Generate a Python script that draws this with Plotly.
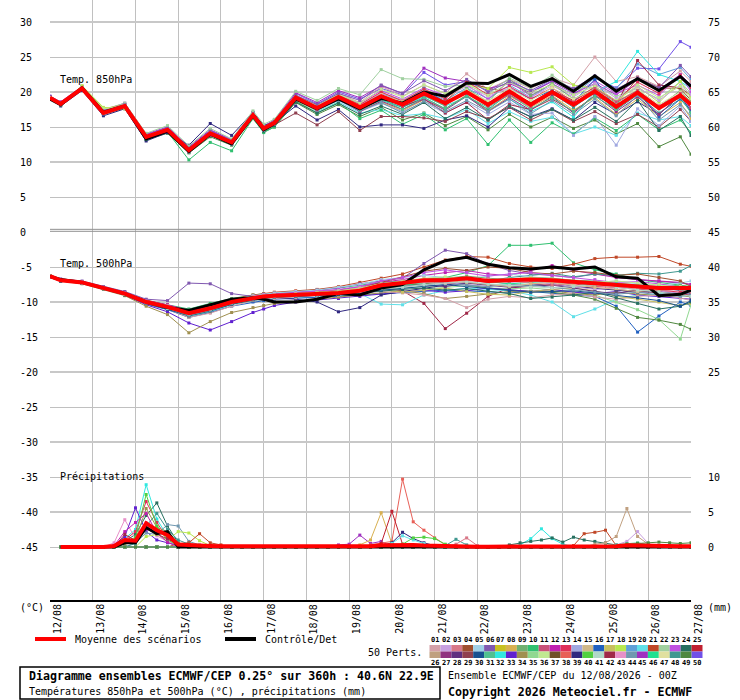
import plotly.graph_objects as go

FONT = "DejaVu Sans Mono"

# forecast hours of the temperature points
hours = [0, 6, 18, 30, 42, 54, 66, 78, 90, 102, 114, 120, 126, 138, 150, 162, 174,
         186, 198, 210, 222, 234, 246, 258, 270, 282, 294, 306, 318, 330, 342, 354, 360]
# precipitation is 6-hourly, from +6h
rain_hours = list(range(6, 361, 6))

day_hours = [0, 24, 48, 72, 96, 120, 144, 168, 192, 216, 240, 264, 288, 312, 336, 360]
day_labels = ["12/08", "13/08", "14/08", "15/08", "16/08", "17/08", "18/08", "19/08",
              "20/08", "21/08", "22/08", "23/08", "24/08", "25/08", "26/08", "27/08"]

left_ticks = [30, 25, 20, 15, 10, 5, 0, -5, -10, -15, -20, -25, -30, -35, -40, -45]
right_ticks = [(30, "75"), (25, "70"), (20, "65"), (15, "60"), (10, "55"), (5, "50"), (0, "45"),
               (-5, "40"), (-10, "35"), (-15, "30"), (-20, "25"), (-35, "10"), (-40, "5"), (-45, "0")]

# colours of the 50 perturbed members (legend order 01..50)
palette = ["#d4a0a8", "#c8a0e0", "#d87888", "#a05030", "#a0d0e8", "#8058b0", "#c8c020", "#d8b050",
           "#70b070", "#30c070", "#c85078", "#c020b0", "#e03058", "#a0a8e0", "#d0b888", "#2060c0",
           "#c8c060", "#b8e850", "#60a0d8", "#60e0e8", "#c04828", "#a0d0a0", "#c050e0", "#287060",
           "#c02030", "#c0a080", "#903080", "#603080", "#904050", "#185090", "#50c090", "#30e8e0",
           "#6020d0", "#a09050", "#90d890", "#c0e890", "#705028", "#e86058", "#302880", "#50d040",
           "#b0d8c8", "#a02848", "#e890c8", "#7098b0", "#a030c0", "#20e090", "#e0e0a0", "#409890",
           "#508840", "#7050e8"]

# ---- 850 hPa temperature (degC)
t850_mean = [19.2, 18.3, 20.5, 17.0, 18.0, 13.6, 14.6, 11.7, 14.1, 12.8, 16.7, 14.8, 15.6, 19.2, 17.7, 19.3, 17.8,
             19.4, 18.2, 19.8, 18.4, 20.0, 18.2, 20.1, 18.2, 20.0, 18.2, 20.1, 17.9, 19.9, 17.7, 19.5, 18.2]
t850_ctrl = [19.0, 18.2, 20.6, 17.1, 18.0, 13.3, 14.4, 11.5, 14.0, 12.6, 16.6, 14.6, 15.5, 19.0, 17.6, 19.0, 17.6,
             19.1, 18.4, 20.0, 19.4, 21.3, 21.2, 22.5, 20.8, 21.9, 20.1, 22.3, 20.1, 21.9, 20.2, 22.2, 20.8]
t850_members = [
    (50, [19.4, 18.5, 20.6, 17.3, 18.2, 13.9, 14.9, 12.0, 14.5, 13.1, 17.0, 15.2, 15.9, 19.8, 18.3, 20.0, 19.0,
          20.5, 19.6, 22.8, 21.0, 21.5, 20.2, 21.8, 20.0, 21.6, 20.3, 22.0, 20.6, 23.4, 23.3, 27.2, 26.4]),
    (49, [19.0, 18.1, 20.3, 16.8, 17.7, 13.2, 14.1, 11.3, 13.6, 12.4, 16.2, 14.3, 15.0, 18.5, 16.8, 18.2, 16.5,
          17.8, 16.0, 17.0, 15.2, 16.5, 14.6, 16.8, 15.0, 16.4, 14.8, 16.0, 14.0, 15.5, 12.2, 13.6, 11.1]),
    (20, [19.3, 18.4, 20.5, 17.1, 18.1, 13.5, 14.4, 11.4, 13.8, 12.5, 16.5, 14.6, 15.3, 18.9, 17.2, 18.6, 17.0,
          17.5, 16.6, 16.9, 16.2, 17.5, 15.5, 17.2, 15.8, 16.4, 14.0, 15.0, 13.8, 17.0, 16.0, 16.5, 15.2]),
    (19, [19.1, 18.2, 20.4, 17.2, 18.0, 13.7, 14.7, 11.8, 14.3, 13.0, 16.9, 15.0, 15.8, 19.5, 18.0, 19.6, 18.2,
          19.8, 18.6, 20.2, 18.8, 20.6, 19.0, 21.0, 19.2, 21.2, 19.6, 22.0, 20.5, 24.0, 22.5, 23.5, 21.8]),
    (10, [19.2, 18.3, 20.4, 16.9, 17.9, 13.4, 14.3, 10.3, 12.8, 11.6, 16.2, 14.2, 15.0, 18.7, 17.0, 18.5, 16.2,
          17.4, 15.4, 16.8, 14.6, 16.2, 12.5, 16.0, 12.8, 15.6, 14.0, 16.3, 14.5, 16.8, 14.6, 16.0, 14.2]),
    (1, [19.3, 18.4, 20.7, 17.2, 18.1, 13.8, 14.8, 11.9, 14.2, 12.9, 16.9, 15.0, 15.8, 19.6, 18.1, 19.8, 18.5,
         20.8, 19.4, 21.0, 19.8, 22.6, 20.4, 21.8, 20.5, 22.0, 21.0, 25.0, 21.5, 22.2, 20.8, 23.0, 21.5]),
    (45, [19.4, 18.6, 20.8, 17.4, 18.4, 14.0, 15.0, 12.2, 14.6, 13.2, 17.0, 15.1, 16.0, 19.9, 18.5, 20.2, 19.2,
          20.9, 19.8, 23.4, 22.0, 21.5, 20.5, 21.2, 19.9, 21.5, 19.8, 21.2, 19.6, 21.8, 20.3, 22.5, 21.0]),
    (39, [19.0, 18.0, 20.2, 16.6, 17.6, 13.0, 14.2, 12.4, 15.5, 13.8, 17.1, 15.2, 15.6, 18.0, 16.0, 17.5, 15.0,
          15.3, 15.3, 14.8, 16.0, 16.6, 15.0, 17.8, 16.5, 17.6, 16.0, 18.5, 16.8, 18.6, 16.8, 19.5, 17.2]),
    (32, [19.2, 18.3, 20.5, 17.0, 18.0, 13.6, 14.6, 11.6, 14.0, 12.7, 16.6, 14.7, 15.5, 19.1, 17.6, 19.2, 17.6,
          18.8, 17.8, 19.4, 18.0, 19.3, 17.5, 19.0, 17.2, 18.6, 16.4, 20.0, 21.5, 25.8, 22.5, 21.5, 20.5]),
    (4, [19.1, 18.2, 20.5, 17.1, 18.1, 13.6, 14.5, 11.6, 14.0, 12.8, 16.7, 14.9, 15.7, 19.3, 17.7, 19.3, 17.9,
         19.5, 18.3, 20.0, 18.6, 21.5, 20.5, 20.0, 18.5, 20.2, 18.8, 20.4, 18.2, 22.0, 20.6, 20.5, 18.8]),
    (22, [19.3, 18.5, 20.7, 17.5, 18.4, 14.1, 15.2, 12.3, 14.8, 13.3, 17.3, 15.4, 16.1, 20.1, 18.8, 20.5, 19.6,
          23.2, 21.9, 21.8, 20.8, 21.0, 19.7, 22.0, 20.6, 22.4, 20.2, 21.0, 19.4, 20.5, 19.0, 21.5, 19.8]),
    (29, [19.2, 18.4, 20.5, 17.0, 17.9, 13.5, 14.5, 11.5, 13.9, 12.6, 16.5, 14.5, 15.3, 17.0, 15.3, 17.2, 14.5,
          16.5, 16.5, 16.3, 15.8, 17.2, 16.2, 17.8, 16.0, 17.5, 15.8, 17.2, 15.5, 16.8, 15.0, 17.5, 15.8]),
    (8, [19.0, 18.2, 20.8, 17.6, 18.2, 13.4, 14.4, 11.4, 13.8, 12.6, 16.6, 14.6, 15.4, 18.8, 17.3, 18.9, 17.4,
         18.6, 17.3, 18.9, 17.6, 19.6, 17.3, 19.4, 17.8, 19.5, 17.4, 19.2, 16.8, 19.0, 16.5, 18.5, 16.2]),
    (23, [19.3, 18.3, 20.5, 17.0, 18.1, 13.7, 14.7, 11.8, 14.2, 12.9, 16.8, 14.9, 15.7, 19.4, 17.9, 19.5, 18.4,
          20.2, 19.0, 20.6, 19.5, 21.0, 19.0, 21.5, 19.4, 21.2, 19.5, 21.6, 19.8, 21.0, 19.5, 22.5, 20.0]),
    (48, [19.2, 18.2, 20.4, 17.0, 18.0, 13.5, 14.6, 11.7, 14.1, 12.8, 16.6, 14.8, 15.6, 19.1, 17.6, 19.1, 17.6,
          19.0, 17.8, 19.2, 17.6, 19.5, 17.5, 19.8, 18.0, 19.8, 17.8, 20.0, 17.4, 19.6, 17.0, 19.0, 17.2]),
    (14, [19.1, 18.3, 20.5, 16.9, 17.9, 13.6, 14.5, 11.5, 14.0, 12.7, 16.6, 14.7, 15.5, 19.0, 17.4, 18.8, 17.2,
          18.4, 17.2, 18.5, 17.0, 18.6, 16.8, 18.6, 16.8, 17.0, 13.8, 16.5, 12.4, 17.6, 15.2, 18.0, 15.8]),
    (42, [19.2, 18.3, 20.5, 17.0, 18.0, 13.6, 14.6, 11.7, 14.1, 12.8, 16.7, 14.8, 15.6, 19.2, 17.7, 19.2, 17.8,
          19.2, 18.0, 19.0, 17.0, 18.5, 16.0, 18.2, 17.5, 19.0, 17.2, 19.5, 18.0, 24.5, 21.0, 20.6, 19.5]),
    (16, [19.3, 18.4, 20.6, 17.1, 18.1, 13.7, 14.8, 11.9, 14.3, 13.0, 16.8, 14.9, 15.7, 19.3, 17.8, 19.4, 18.0,
          19.6, 18.2, 20.5, 18.5, 20.0, 18.0, 20.6, 19.0, 20.2, 18.5, 21.8, 17.5, 20.2, 16.4, 19.0, 17.5]),
    (18, [19.2, 18.2, 20.9, 17.8, 17.6, 13.5, 14.6, 11.6, 14.0, 12.8, 16.7, 14.7, 15.6, 19.2, 17.9, 19.6, 18.2,
          19.9, 18.8, 20.4, 19.2, 21.0, 20.5, 23.5, 22.8, 23.6, 21.0, 20.5, 18.8, 20.8, 18.5, 21.5, 19.2]),
    (24, [19.1, 18.2, 20.4, 16.9, 18.0, 13.2, 14.4, 11.4, 13.8, 12.5, 16.4, 14.4, 15.2, 18.6, 17.0, 18.4, 16.8,
          18.0, 16.8, 18.5, 16.2, 17.8, 16.0, 18.0, 16.4, 17.5, 16.0, 17.8, 15.8, 18.8, 14.5, 16.5, 13.8]),
    (2, [19.2, 18.4, 20.6, 17.2, 18.1, 13.7, 14.7, 11.8, 14.2, 12.9, 16.8, 14.9, 15.7, 19.3, 17.9, 19.4, 18.1,
         19.8, 18.9, 20.3, 19.3, 20.8, 19.4, 20.6, 19.2, 20.9, 19.3, 21.2, 19.1, 20.7, 18.8, 21.0, 19.6]),
    (9, [19.1, 18.2, 20.5, 17.0, 18.0, 13.5, 14.5, 11.5, 13.9, 12.6, 16.6, 14.6, 15.5, 19.0, 17.5, 19.1, 17.5,
         19.3, 18.1, 19.5, 18.0, 20.5, 18.6, 21.8, 19.5, 21.2, 19.0, 20.6, 18.4, 20.3, 17.9, 20.2, 18.5]),
    (13, [19.3, 18.3, 20.5, 17.1, 18.0, 13.6, 14.6, 11.7, 14.1, 12.8, 16.7, 14.8, 15.6, 19.3, 17.8, 19.5, 18.2,
          20.0, 18.7, 20.4, 19.0, 21.5, 19.6, 20.8, 19.0, 20.6, 18.6, 20.8, 18.7, 21.4, 19.8, 22.4, 20.6]),
    (27, [19.2, 18.3, 20.4, 17.0, 17.9, 13.5, 14.4, 11.5, 13.8, 12.6, 16.5, 14.5, 15.4, 18.9, 17.4, 19.0, 17.2,
          18.7, 17.5, 19.0, 17.4, 19.4, 17.2, 19.2, 17.4, 19.4, 17.0, 19.5, 17.2, 19.3, 16.8, 19.6, 17.6]),
    (36, [19.2, 18.3, 20.6, 17.6, 18.0, 13.7, 14.7, 11.9, 14.3, 13.0, 16.9, 15.0, 15.8, 19.4, 18.1, 19.7, 18.4,
          20.4, 19.3, 21.0, 19.8, 21.2, 19.5, 21.4, 20.0, 21.0, 19.6, 20.8, 18.8, 21.0, 19.2, 20.8, 19.0]),
    (44, [19.1, 18.2, 20.4, 16.9, 18.0, 13.4, 14.4, 11.4, 13.9, 12.5, 16.5, 14.5, 15.4, 18.9, 17.4, 18.9, 17.3,
          18.5, 17.0, 18.7, 17.2, 18.8, 17.2, 19.0, 16.9, 18.8, 16.8, 19.0, 16.6, 19.5, 16.0, 18.2, 16.6]),
    (6, [19.3, 18.5, 20.6, 17.3, 18.2, 13.8, 14.8, 12.0, 14.4, 13.0, 16.9, 15.0, 15.8, 19.5, 18.2, 19.8, 18.8,
         21.0, 19.8, 21.6, 20.2, 21.8, 20.0, 21.5, 20.2, 21.8, 20.5, 22.3, 20.4, 22.0, 20.6, 23.8, 22.2]),
    (31, [19.2, 18.3, 20.5, 17.0, 18.0, 13.6, 14.6, 11.7, 14.1, 12.8, 16.7, 14.8, 15.6, 19.1, 17.6, 19.2, 17.5,
          19.0, 17.5, 19.2, 17.6, 19.4, 17.8, 19.6, 17.6, 19.2, 17.2, 19.4, 17.5, 19.8, 17.6, 19.2, 17.0]),
    (47, [19.2, 18.3, 20.6, 17.2, 18.1, 13.6, 14.6, 11.7, 14.1, 12.8, 16.7, 14.8, 15.6, 19.2, 17.8, 19.3, 17.8,
          19.6, 18.6, 20.0, 18.5, 20.3, 18.7, 20.5, 18.8, 20.6, 19.0, 20.4, 18.6, 20.4, 18.2, 20.0, 18.4]),
    (11, [19.1, 18.3, 20.5, 17.0, 18.0, 13.5, 14.5, 11.6, 14.0, 12.7, 16.6, 14.7, 15.5, 19.0, 17.5, 19.2, 17.9,
          19.3, 18.0, 19.6, 18.2, 19.9, 18.0, 19.6, 17.9, 20.0, 18.3, 20.5, 18.6, 20.2, 18.0, 19.8, 17.8]),
]

# ---- 500 hPa temperature (degC)
t500_mean = [-6.3, -6.9, -7.2, -8.0, -8.8, -10.0, -10.7, -11.6, -10.9, -10.0, -9.4, -9.2, -9.1, -9.0, -8.9, -8.7, -8.4,
             -7.6, -7.3, -6.9, -6.9, -6.6, -7.0, -6.9, -6.8, -6.9, -7.1, -7.3, -7.6, -7.8, -8.0, -8.0, -8.0]
t500_ctrl = [-6.3, -6.8, -7.2, -8.0, -8.8, -10.0, -10.8, -11.2, -10.4, -9.6, -9.4, -9.6, -10.0, -10.0, -9.6, -8.8, -9.0,
             -8.0, -7.5, -5.4, -4.1, -3.6, -4.6, -5.1, -5.3, -5.0, -5.3, -5.0, -6.4, -6.6, -9.1, -8.9, -8.3]
t500_members = [
    (10, [-6.2, -6.8, -7.1, -7.9, -8.6, -9.8, -10.4, -11.0, -10.2, -9.5, -9.0, -8.8, -8.7, -8.5, -8.3, -8.0, -7.6,
          -7.2, -7.0, -6.8, -6.5, -5.8, -4.8, -1.9, -1.9, -1.6, -4.4, -5.4, -6.0, -6.8, -7.2, -7.5, -7.8]),
    (42, [-6.4, -6.9, -7.3, -8.1, -8.9, -10.1, -10.8, -11.8, -11.0, -10.2, -9.6, -9.4, -9.3, -9.2, -9.0, -8.8, -8.5,
          -8.0, -8.4, -10.2, -13.8, -11.6, -9.2, -8.0, -7.8, -7.5, -7.8, -8.0, -8.2, -8.5, -8.7, -8.8, -9.0]),
    (21, [-6.3, -6.8, -7.1, -7.8, -8.6, -9.7, -10.4, -11.2, -10.4, -9.6, -9.0, -8.8, -8.6, -8.4, -8.2, -7.8, -7.2,
          -6.6, -6.0, -5.0, -4.0, -3.5, -3.6, -4.5, -5.0, -5.2, -4.6, -3.8, -3.6, -3.6, -3.5, -4.6, -4.9]),
    (20, [-6.4, -6.9, -7.2, -8.0, -8.9, -10.2, -11.0, -12.0, -11.4, -10.4, -9.8, -9.6, -9.5, -9.4, -9.3, -9.2, -8.8,
          -10.3, -10.4, -9.0, -8.4, -8.0, -8.2, -8.4, -9.0, -10.0, -12.1, -11.0, -9.6, -9.0, -8.8, -9.0, -9.2]),
    (16, [-6.5, -7.0, -7.3, -8.1, -9.0, -10.3, -11.1, -12.2, -11.5, -10.6, -10.0, -9.8, -9.6, -9.5, -9.4, -9.2, -9.0,
          -8.8, -8.6, -8.5, -8.3, -8.4, -8.6, -8.7, -8.5, -8.8, -9.0, -9.2, -10.6, -14.3, -12.0, -10.0, -10.5]),
    (35, [-6.3, -6.9, -7.2, -8.0, -8.8, -10.0, -10.7, -11.7, -11.0, -10.2, -9.5, -9.3, -9.2, -9.1, -9.0, -8.8, -8.5,
          -8.2, -8.0, -7.8, -7.9, -7.7, -8.0, -8.1, -8.0, -8.2, -8.5, -9.0, -10.0, -11.1, -12.5, -15.3, -10.4]),
    (49, [-6.4, -6.9, -7.2, -8.1, -8.9, -10.1, -10.9, -11.8, -11.2, -10.3, -9.6, -9.4, -9.3, -9.2, -9.1, -8.9, -8.6,
          -8.0, -7.6, -7.4, -7.2, -7.5, -8.0, -8.3, -8.5, -8.6, -9.0, -9.6, -10.9, -12.2, -12.6, -13.2, -13.9]),
    (6, [-6.2, -6.7, -7.0, -7.8, -8.5, -9.6, -9.8, -7.3, -7.4, -8.8, -9.2, -9.0, -8.8, -8.6, -8.3, -8.0, -7.4,
         -7.0, -6.6, -4.5, -2.6, -3.1, -4.6, -5.5, -6.0, -6.2, -6.5, -6.0, -6.3, -6.8, -7.0, -7.3, -7.5]),
    (33, [-6.4, -6.9, -7.3, -8.1, -9.0, -10.4, -11.4, -13.0, -14.0, -12.8, -11.5, -11.0, -10.5, -10.0, -9.7, -9.5, -9.2,
          -8.8, -8.5, -8.3, -8.6, -8.4, -8.0, -8.3, -8.5, -8.2, -8.6, -8.8, -8.5, -9.0, -9.2, -9.4, -9.6]),
    (34, [-6.5, -7.0, -7.4, -8.2, -9.1, -10.6, -11.8, -14.4, -12.8, -11.5, -10.8, -10.5, -10.2, -9.9, -9.6, -9.3, -9.0,
          -8.6, -8.4, -8.8, -9.5, -9.2, -8.8, -8.5, -8.6, -8.4, -8.8, -9.0, -8.6, -8.8, -9.1, -9.0, -9.3]),
    (39, [-6.3, -6.8, -7.1, -7.9, -8.8, -10.0, -10.6, -11.3, -10.6, -9.9, -9.4, -9.3, -9.4, -9.6, -10.0, -11.4, -10.8,
          -9.0, -8.5, -8.0, -7.6, -7.2, -7.5, -7.8, -7.6, -7.4, -7.8, -8.0, -8.3, -8.6, -8.5, -8.8, -8.7]),
    (12, [-6.3, -6.8, -7.2, -7.9, -8.7, -9.8, -10.4, -11.2, -10.5, -9.8, -9.2, -9.0, -8.9, -8.8, -8.6, -8.3, -7.8,
          -7.2, -6.8, -6.2, -5.8, -5.5, -6.0, -6.2, -5.5, -4.8, -5.5, -6.0, -6.5, -6.8, -7.0, -7.2, -7.5]),
    (48, [-6.4, -6.9, -7.3, -8.0, -8.9, -10.1, -10.9, -11.9, -11.2, -10.3, -9.5, -9.3, -9.2, -9.0, -8.9, -8.6, -8.2,
          -7.5, -7.2, -6.8, -6.5, -6.8, -7.0, -6.5, -6.2, -5.9, -6.4, -6.0, -6.2, -5.9, -6.0, -5.6, -4.8]),
    (1, [-6.4, -6.9, -7.2, -8.0, -8.9, -10.2, -11.0, -12.2, -11.6, -10.6, -9.8, -9.6, -9.5, -9.4, -9.2, -9.0, -8.7,
         -8.5, -8.7, -9.0, -9.5, -10.8, -9.6, -9.2, -9.4, -9.0, -8.8, -9.3, -9.6, -9.2, -9.0, -9.4, -9.8]),
    (5, [-6.2, -6.8, -7.1, -7.9, -8.7, -9.9, -10.5, -11.4, -10.6, -9.7, -9.1, -8.9, -8.7, -8.5, -8.3, -7.9, -7.5,
         -6.8, -6.5, -6.2, -6.5, -6.7, -6.3, -6.0, -6.4, -6.7, -7.0, -7.2, -7.0, -7.4, -7.6, -7.3, -7.0]),
    (17, [-6.4, -6.9, -7.2, -8.0, -8.8, -10.0, -10.6, -11.5, -10.8, -10.0, -9.5, -9.4, -9.3, -9.2, -9.0, -8.8, -8.4,
          -8.2, -8.6, -8.3, -8.0, -8.5, -8.9, -9.0, -8.5, -8.2, -8.0, -8.4, -9.2, -9.6, -10.0, -10.5, -10.2]),
    (4, [-6.3, -6.8, -7.2, -8.0, -8.8, -10.0, -10.6, -11.4, -10.7, -9.9, -9.3, -9.1, -9.0, -8.9, -8.7, -8.4, -8.0,
         -7.2, -6.4, -5.6, -5.2, -5.5, -5.0, -5.2, -5.8, -6.0, -5.6, -5.8, -6.2, -6.0, -6.5, -7.0, -7.8]),
    (24, [-6.5, -7.0, -7.3, -8.1, -9.0, -10.2, -11.0, -12.0, -11.3, -10.3, -9.7, -9.5, -9.3, -9.2, -9.1, -8.9, -8.7,
          -8.4, -8.2, -8.0, -8.3, -8.1, -8.4, -8.8, -9.5, -9.3, -9.0, -8.6, -9.4, -10.2, -11.0, -10.6, -10.0]),
    (2, [-6.3, -6.8, -7.2, -8.0, -8.8, -10.0, -10.8, -11.8, -11.0, -10.0, -9.3, -9.1, -9.0, -8.9, -8.8, -8.6, -8.2,
         -7.8, -7.5, -7.0, -7.2, -7.5, -7.8, -7.2, -7.0, -7.4, -7.8, -8.2, -8.0, -7.8, -8.4, -8.8, -8.5]),
    (28, [-6.4, -6.9, -7.3, -8.0, -8.9, -10.1, -10.8, -11.7, -11.1, -10.2, -9.6, -9.4, -9.2, -9.0, -8.9, -8.7, -8.5,
          -8.1, -7.8, -7.5, -7.8, -7.3, -7.6, -7.9, -7.7, -7.6, -8.0, -8.5, -8.8, -8.2, -7.9, -8.3, -8.6]),
    (9, [-6.3, -6.8, -7.2, -7.9, -8.7, -9.9, -10.6, -11.5, -10.8, -9.9, -9.3, -9.1, -9.0, -8.9, -8.7, -8.5, -8.2,
         -7.6, -7.2, -6.8, -6.6, -6.3, -6.6, -6.8, -6.5, -6.6, -6.9, -7.0, -7.3, -7.6, -7.8, -7.6, -7.9]),
    (13, [-6.4, -6.9, -7.2, -8.0, -8.8, -10.0, -10.7, -11.6, -10.9, -10.0, -9.4, -9.2, -9.1, -9.0, -8.8, -8.6, -8.3,
          -7.7, -7.4, -7.0, -6.8, -6.9, -7.2, -7.0, -6.9, -7.2, -7.4, -7.8, -7.9, -8.2, -8.3, -8.6, -8.4]),
    (23, [-6.3, -6.8, -7.1, -7.9, -8.7, -9.9, -10.5, -11.3, -10.6, -9.8, -9.2, -9.0, -8.9, -8.7, -8.5, -8.2, -7.8,
          -7.0, -6.5, -5.8, -5.4, -5.8, -6.3, -6.0, -5.8, -6.2, -6.5, -6.8, -7.2, -7.1, -7.4, -7.9, -8.1]),
    (30, [-6.5, -7.0, -7.3, -8.1, -8.9, -10.2, -11.0, -11.9, -11.2, -10.3, -9.6, -9.4, -9.3, -9.2, -9.1, -8.9, -8.6,
          -8.3, -8.0, -7.7, -7.5, -7.8, -8.1, -8.4, -8.6, -8.5, -8.4, -8.7, -9.0, -9.4, -9.8, -10.6, -9.8]),
    (36, [-6.3, -6.8, -7.2, -8.0, -8.8, -10.0, -10.6, -11.5, -10.8, -9.9, -9.3, -9.1, -9.0, -8.8, -8.6, -8.4, -8.0,
          -7.4, -7.0, -6.6, -6.4, -6.6, -6.9, -6.7, -6.5, -6.7, -7.0, -7.2, -7.0, -7.3, -7.5, -7.8, -8.0]),
    (44, [-6.4, -6.9, -7.3, -8.0, -8.9, -10.1, -10.9, -11.9, -11.2, -10.2, -9.6, -9.4, -9.3, -9.1, -9.0, -8.8, -8.5,
          -8.0, -7.8, -7.6, -7.3, -7.6, -7.8, -7.5, -7.6, -7.9, -8.3, -8.6, -8.9, -8.6, -9.0, -9.2, -9.0]),
    (46, [-6.3, -6.9, -7.2, -8.0, -8.8, -10.0, -10.8, -11.6, -10.9, -10.0, -9.4, -9.2, -9.1, -9.0, -8.8, -8.6, -8.3,
          -7.8, -7.6, -7.2, -7.0, -6.8, -7.1, -7.4, -7.2, -7.0, -7.3, -7.6, -7.4, -7.7, -7.9, -8.2, -8.4]),
    (3, [-6.4, -6.9, -7.2, -8.0, -8.9, -10.1, -10.8, -11.6, -10.8, -9.9, -9.3, -9.2, -9.1, -9.0, -8.9, -8.7, -8.3,
         -7.7, -7.4, -7.2, -7.4, -7.0, -6.7, -7.0, -7.3, -7.6, -7.4, -7.1, -7.6, -8.0, -8.4, -8.2, -8.6]),
    (15, [-6.3, -6.8, -7.2, -8.0, -8.8, -9.9, -10.6, -11.4, -10.7, -9.9, -9.3, -9.1, -9.0, -8.9, -8.7, -8.5, -8.1,
          -7.5, -7.1, -6.7, -6.9, -7.2, -7.5, -7.8, -7.4, -7.2, -7.6, -7.9, -8.1, -8.5, -8.2, -8.0, -8.3]),
    (41, [-6.4, -6.9, -7.3, -8.1, -8.9, -10.1, -10.9, -11.7, -11.0, -10.1, -9.5, -9.3, -9.2, -9.1, -9.0, -8.8, -8.5,
          -8.1, -7.9, -7.5, -7.3, -7.1, -7.4, -7.6, -7.9, -8.0, -7.8, -7.5, -7.9, -8.3, -8.6, -8.9, -9.2]),
]

# ---- precipitation (mm / 6h), drawn on the -45 baseline of the left scale
RAIN_BASE = -45
rain_mean = [0, 0, 0, 0, 0, 0.15, 1.0, 0.9, 3.4, 2.4,
             1.7, 0.35, 0.25, 0.25, 0.15, 0.1, 0.1, 0.1, 0.05, 0.05,
             0.05, 0.05, 0.05, 0.05, 0.05, 0.05, 0.05, 0.05, 0.1, 0.1,
             0.25, 0.25, 0.35, 0.3, 0.2, 0.15, 0.1, 0.1, 0.1, 0.05,
             0.05, 0.05, 0.05, 0.05, 0.1, 0.15, 0.15, 0.1, 0.15, 0.15,
             0.15, 0.15, 0.1, 0.25, 0.2, 0.15, 0.1, 0.1, 0.1, 0.1]
rain_ctrl = [0, 0, 0, 0, 0, 0, 0.6, 0.6, 2.8, 1.9,
             2.2, 0, 0, 0, 0, 0, 0, 0, 0, 0,
             0, 0, 0, 0, 0, 0, 0, 0, 0, 0,
             0, 0, 0, 0, 0, 0, 0, 0, 0, 0,
             0, 0, 0, 0, 0, 0, 0, 0, 0, 0,
             0, 0, 0, 0, 0, 0, 0, 0, 0, 0]
# members: only the wet steps are listed, every other step is 0 mm
rain_members = [
    (32, {36: 0.3, 42: 1.2, 48: 2.5, 54: 8.9, 60: 4.0, 66: 1.5, 72: 0.4, 78: 0.2}),
    (24, {42: 0.8, 48: 1.8, 54: 4.5, 60: 6.3, 66: 3.0, 72: 0.6, 78: 0.2}),
    (43, {36: 0.6, 42: 3.9, 48: 1.2, 54: 3.5, 60: 1.6, 66: 0.8, 72: 0.2}),
    (33, {36: 0.2, 42: 1.5, 48: 5.6, 54: 2.2, 60: 1.0, 66: 0.6, 72: 0.2}),
    (44, {48: 0.6, 54: 2.0, 60: 1.8, 66: 3.2, 72: 3.0, 78: 0.8, 84: 0.3}),
    (18, {54: 1.5, 60: 1.8, 66: 1.0, 72: 2.2, 78: 2.0, 84: 0.9, 90: 0.2}),
    (21, {72: 0.5, 78: 0.6, 84: 1.9, 90: 0.6, 96: 0.3}),
    (13, {42: 1.0, 48: 2.2, 54: 6.5, 60: 3.5, 66: 1.2, 72: 0.3}),
    (34, {42: 0.4, 48: 1.0, 54: 5.5, 60: 2.8, 66: 2.2, 72: 0.6}),
    (48, {48: 0.5, 54: 3.0, 60: 4.8, 66: 2.5, 72: 1.0, 78: 0.4}),
    (40, {42: 0.6, 48: 1.4, 54: 7.5, 60: 3.0, 66: 1.0, 72: 0.2}),
    (12, {36: 0.2, 42: 2.2, 48: 3.5, 54: 4.8, 60: 2.0, 66: 0.7}),
    (42, {42: 1.8, 48: 0.9, 54: 2.6, 60: 1.9, 66: 1.2, 72: 0.4}),
    (45, {162: 0.3, 168: 0.4, 174: 1.7, 180: 0.5, 186: 0.8}),
    (38, {180: 0.3, 186: 0.5, 192: 0.8, 198: 9.7, 204: 3.6, 210: 2.4, 216: 1.3, 222: 0.3}),
    (8, {174: 0.3, 180: 1.0, 186: 4.9, 192: 0.5, 198: 0.2}),
    (25, {186: 0.5, 192: 5.1, 198: 0.4}),
    (39, {186: 0.2, 192: 0.6, 198: 2.1, 204: 1.2, 210: 0.6, 216: 0.2}),
    (20, {192: 0.5, 198: 1.6, 204: 1.0, 210: 0.5}),
    (40, {198: 0.4, 204: 1.3, 210: 1.4, 216: 1.2, 222: 0.4}),
    (48, {222: 0.2, 228: 1.1, 234: 0.3}),
    (3, {228: 0.4, 234: 1.3, 240: 0.2}),
    (32, {264: 0.3, 270: 1.2, 276: 2.6, 282: 1.2, 288: 0.4}),
    (24, {258: 0.3, 264: 0.6, 270: 0.8, 276: 1.0, 282: 1.3, 288: 0.7, 294: 1.4, 300: 1.0, 306: 0.8, 312: 0.6, 318: 0.3}),
    (21, {294: 0.2, 300: 1.9, 306: 2.1, 312: 2.4, 318: 0.2}),
    (26, {306: 0.4, 312: 0.6, 318: 1.5, 324: 5.5, 330: 1.5, 336: 0.4}),
    (2, {318: 0.3, 324: 0.8, 330: 2.2, 336: 0.5}),
    (31, {312: 0.2, 318: 0.3, 324: 0.5, 330: 0.6, 336: 0.3}),
    (49, {324: 0.4, 330: 0.5, 336: 0.6, 342: 0.7, 348: 0.6, 354: 0.5, 360: 0.6}),
]


def member_trace(x, y, color):
    return go.Scatter(x=x, y=y, mode="lines+markers",
                      line=dict(color=color, width=1),
                      marker=dict(color=color, size=3, symbol="square"),
                      hoverinfo="skip", showlegend=False)


def main_trace(x, y, color, width):
    return go.Scatter(x=x, y=y, mode="lines", line=dict(color=color, width=width),
                      hoverinfo="skip", showlegend=False)


fig = go.Figure()

for num, vals in t850_members:
    fig.add_trace(member_trace(hours, vals, palette[num - 1]))
for num, vals in t500_members:
    fig.add_trace(member_trace(hours, vals, palette[num - 1]))
for num, wet in rain_members:
    series = [wet.get(h, 0.0) for h in rain_hours]
    fig.add_trace(member_trace(rain_hours, [RAIN_BASE + v for v in series], palette[num - 1]))

# control then ensemble mean on top
fig.add_trace(main_trace(hours, t850_ctrl, "black", 3))
fig.add_trace(main_trace(hours, t500_ctrl, "black", 3))
fig.add_trace(main_trace(rain_hours, [RAIN_BASE + v for v in rain_ctrl], "black", 3))
fig.add_trace(main_trace(hours, t850_mean, "#ff0000", 4))
fig.add_trace(main_trace(hours, t500_mean, "#ff0000", 4))
fig.add_trace(main_trace(rain_hours, [RAIN_BASE + v for v in rain_mean], "#ff0000", 4))


# pixel -> paper helpers (plot area is x 50..691, y 0..600)
def px(x):
    return (x - 50) / 641


def py(y):
    return (600 - y) / 600


def text(s, x, y, size=10, bold=False, anchor="left"):
    if bold:
        s = "<b>" + s + "</b>"
    return dict(xref="paper", yref="paper", x=px(x), y=py(y), text=s, showarrow=False,
                xanchor=anchor, yanchor="middle", font=dict(family=FONT, size=size, color="black"))


ann = []
for v in left_ticks:
    ann.append(dict(xref="paper", yref="y", x=px(18), y=v, text=str(v), showarrow=False,
                    xanchor="left", yanchor="middle", font=dict(family=FONT, size=10, color="black")))
for v, lab in right_ticks:
    ann.append(dict(xref="paper", yref="y", x=px(706), y=v, text=lab, showarrow=False,
                    xanchor="left", yanchor="middle", font=dict(family=FONT, size=10, color="black")))
for h, lab in zip(day_hours, day_labels):
    ann.append(dict(xref="x", yref="paper", x=h, y=0, xshift=7, yshift=-2, text=lab,
                    showarrow=False, textangle=-90, xanchor="center", yanchor="top",
                    font=dict(family=FONT, size=10, color="black")))

ann += [
    text("Temp. 850hPa", 58, 79),
    text("Temp. 500hPa", 58, 264),
    text("Précipitations", 58, 476),
    text("(°C)", 18, 607),
    text("(mm)", 706, 607),
    text("Moyenne des scénarios", 73, 639),
    text("Contrôle/Det", 263, 639),
    text("50 Perts.", 366, 652),
    text("Diagramme ensembles ECMWF/CEP 0.25° sur 360h : 40.6N 22.9E", 27, 676, size=11.6, bold=True),
    text("Températures 850hPa et 500hPa (°C) , précipitations (mm)", 27, 691),
    text("Ensemble ECMWF/CEP du 12/08/2026 - 00Z", 446, 675),
    text("Copyright 2026 Meteociel.fr - ECMWF", 446, 692, size=11.6, bold=True),
]

shapes = [
    # double line between the two temperature panels
    dict(type="line", xref="x", yref="y", x0=0, x1=360, y0=0.1, y1=0.1, line=dict(color="#909090", width=1)),
    dict(type="line", xref="x", yref="y", x0=0, x1=360, y0=0.38, y1=0.38, line=dict(color="#909090", width=1)),
    # legend swatches
    dict(type="line", xref="paper", yref="paper", x0=px(35), x1=px(66), y0=py(639), y1=py(639),
         line=dict(color="#ff0000", width=4)),
    dict(type="line", xref="paper", yref="paper", x0=px(225), x1=px(256), y0=py(639), y1=py(639),
         line=dict(color="black", width=4)),
    # caption box
    dict(type="rect", xref="paper", yref="paper", x0=px(20), x1=px(440), y0=py(667), y1=py(699),
         line=dict(color="black", width=1.5)),
]

cell = 10.92
for i in range(25):
    x0 = 429.5 + i * cell
    for row, num in ((0, i + 1), (1, i + 26)):
        shapes.append(dict(type="rect", xref="paper", yref="paper", x0=px(x0), x1=px(x0 + cell),
                           y0=py(645 + row * 6.5), y1=py(651.5 + row * 6.5),
                           line=dict(width=0), fillcolor=palette[num - 1]))
    ann.append(text("%02d" % (i + 1), x0 + cell / 2, 639.5, size=7, bold=True, anchor="center"))
    ann.append(text("%02d" % (i + 26), x0 + cell / 2, 662.5, size=7, bold=True, anchor="center"))

fig.update_layout(
    width=740, height=700,
    margin=dict(l=50, r=49, t=0, b=100),
    plot_bgcolor="white", paper_bgcolor="white",
    showlegend=False,
    font=dict(family=FONT, size=10, color="black"),
    annotations=ann,
    shapes=shapes,
)
fig.update_xaxes(range=[0, 360], tickvals=day_hours, showticklabels=False, ticks="",
                 showgrid=True, gridcolor="#c0c0c0", gridwidth=1, zeroline=False,
                 showline=True, linecolor="black", linewidth=1.5)
fig.update_yaxes(range=[-52.571, 33.143], tickvals=[-40, -30, -20, -10, 10, 20, 30],
                 showticklabels=False, ticks="", showgrid=True, gridcolor="#c8c8c8", gridwidth=2,
                 zeroline=False, showline=False,
                 minor=dict(tickvals=[-45, -35, -25, -15, -5, 5, 15, 25], showgrid=True,
                            gridcolor="#c0c0c0", gridwidth=1, ticks=""))

fig.write_html("out.html", config={"displayModeBar": False},
               post_script="document.body.style.margin='0';")
